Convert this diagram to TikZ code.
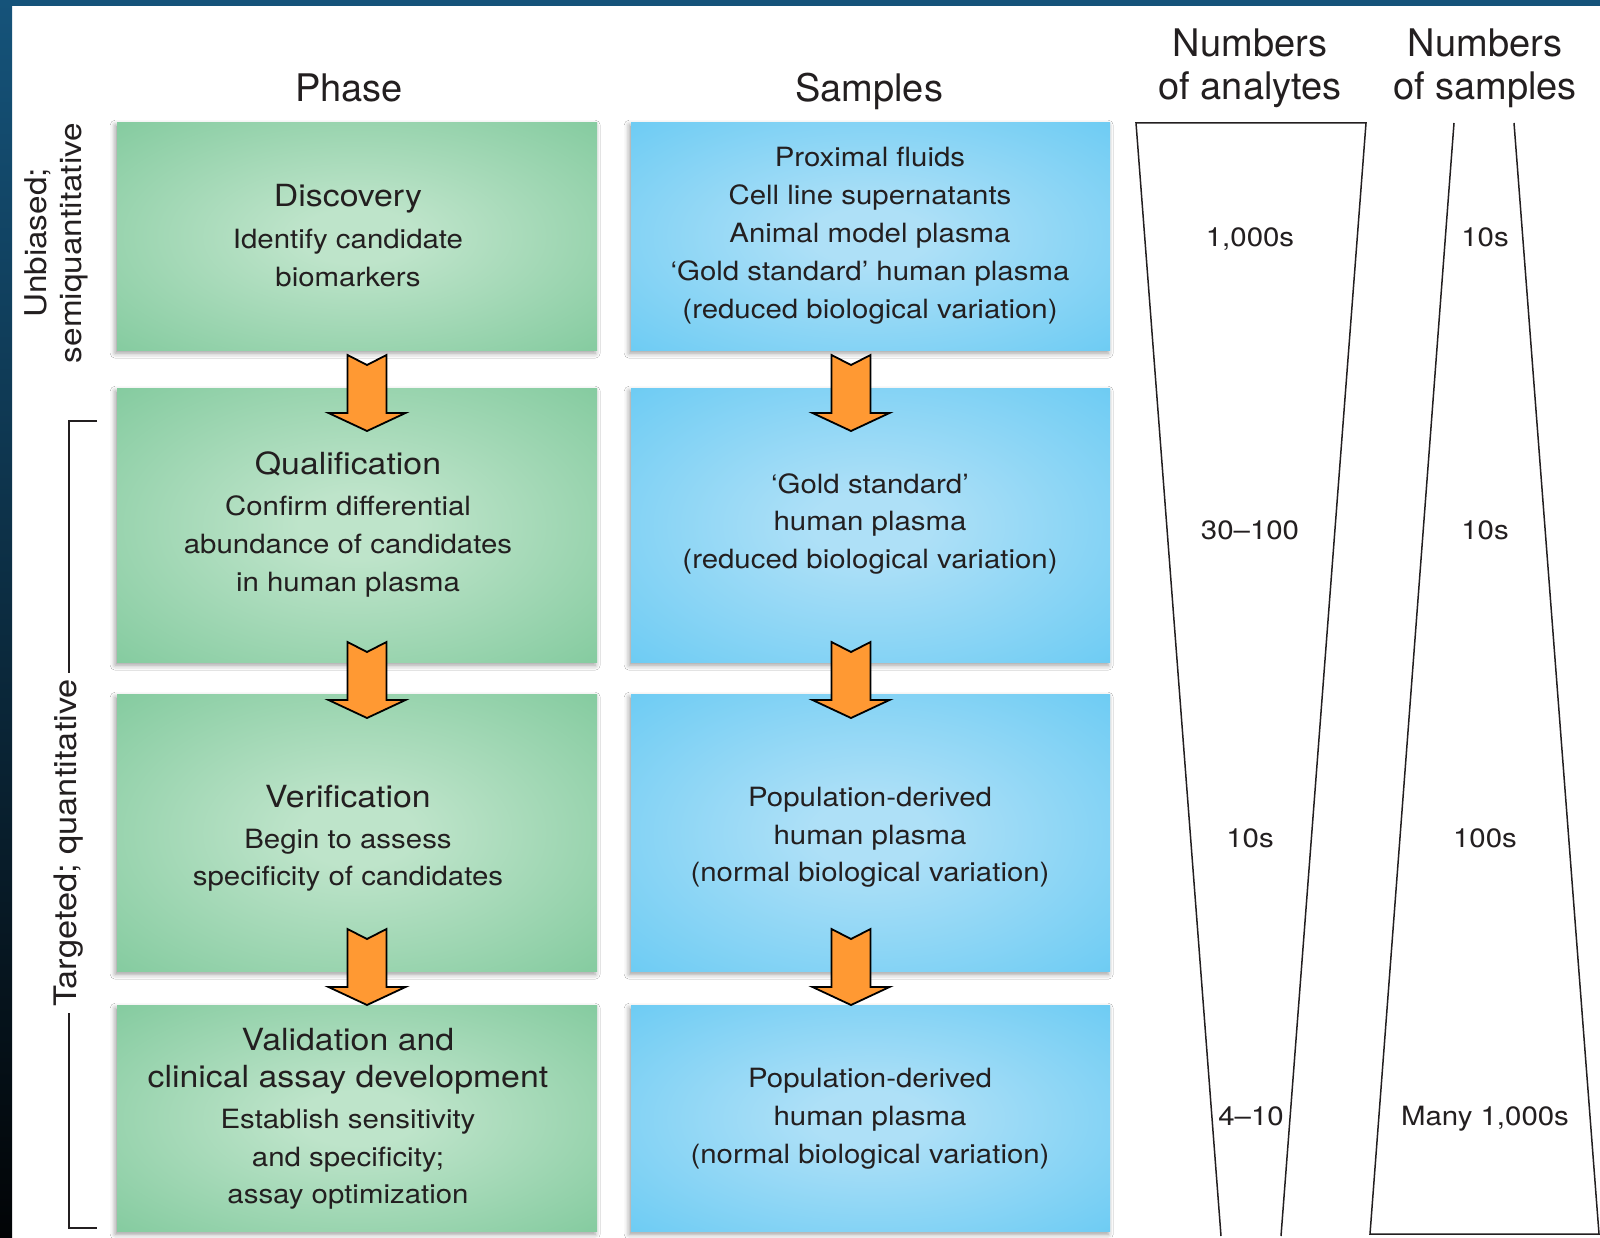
\documentclass[tikz,border=0pt]{standalone}
\usepackage{fontspec}
\setmainfont{TeX Gyre Heros}
\newfontfamily\bx{TeX Gyre Heros}[FakeStretch=1.11]
\usetikzlibrary{shadows.blur}
\definecolor{gin}{HTML}{BEE4CA}
\definecolor{gout}{HTML}{80C99C}
\definecolor{bin}{HTML}{AEE0F7}
\definecolor{bout}{HTML}{68CAF3}
\definecolor{ink}{HTML}{231F20}
\definecolor{orng}{HTML}{FF9933}
\definecolor{bandtop}{HTML}{15537A}
\definecolor{bandmid}{HTML}{0D2C43}
\definecolor{bandbot}{HTML}{020406}
\pgfdeclareradialshading{gsh}{\pgfpoint{0bp}{0bp}}{color(0bp)=(gin); color(6bp)=(gin); color(38bp)=(gout); color(50bp)=(gout)}
\pgfdeclareradialshading{bsh}{\pgfpoint{0bp}{0bp}}{color(0bp)=(bin); color(6bp)=(bin); color(38bp)=(bout); color(50bp)=(bout)}
\begin{document}
\begin{tikzpicture}[x=1pt,y=-1pt,
  txt/.style={text=ink, inner sep=0pt, anchor=base},
  hdr/.style={txt, font=\fontsize{38}{44}\selectfont},
  ttl/.style={txt, font=\bx\fontsize{30.5}{36}\selectfont},
  sub/.style={txt, font=\bx\fontsize{26.5}{38}\selectfont},
  box/.style={rectangle, anchor=north west, inner sep=0pt, shade,
    blur shadow={shadow xshift=-2pt, shadow yshift=-3pt, shadow blur radius=5pt, shadow opacity=40}},
  gbox/.style={box, shading=gsh},
  bbox/.style={box, shading=bsh},
  trap/.style={draw=ink, line width=1.5pt, line join=miter},
  brk/.style={draw=ink, line width=1.5pt},
  pics/downarrow/.style={code={
    \draw[fill=orng, draw=black, line width=1.8pt, line join=miter]
      (-19.5,0) -- (0,10) -- (19.5,0) -- (19.5,58) -- (38.5,58) -- (0,76)
      -- (-38.5,58) -- (-19.5,58) -- cycle;}}
]
\useasboundingbox (0,0) rectangle (1600,1238);
\fill[white] (0,0) rectangle (1600,1238);
% frame bands
\fill[bandtop] (0,0) rectangle (1600,6);
\shade[top color=bandtop, middle color=bandmid, bottom color=bandbot] (0,0) rectangle (12,1238);

% headers
\node[hdr] (hphase) at (349,102) {Phase};
\node[hdr] (hsamp) at (869,102) {Samples};
\node[hdr] (han1) at (1250,57) {Numbers};
\node[hdr] (han2) at (1250,100) {of analytes};
\node[hdr] (hsn1) at (1485,57) {Numbers};
\node[hdr] (hsn2) at (1485,100) {of samples};

% boxes
\node[gbox, minimum width=480pt, minimum height=228pt] (g1) at (117,122) {};
\node[gbox, minimum width=480pt, minimum height=274pt] (g2) at (117,388) {};
\node[gbox, minimum width=480pt, minimum height=277pt] (g3) at (117,694) {};
\node[gbox, minimum width=480pt, minimum height=226pt] (g4) at (117,1005) {};
\node[bbox, minimum width=479pt, minimum height=228pt] (b1) at (631,122) {};
\node[bbox, minimum width=479pt, minimum height=274pt] (b2) at (631,388) {};
\node[bbox, minimum width=479pt, minimum height=277pt] (b3) at (631,694) {};
\node[bbox, minimum width=479pt, minimum height=226pt] (b4) at (631,1005) {};

% green texts
\node[ttl] (g1a) at (348,207) {Discovery};
\node[sub] (g1b) at (348,249) {Identify candidate};
\node[sub] (g1c) at (348,287) {biomarkers};
\node[ttl] (g2a) at (348,474) {Qualification};
\node[sub] (g2b) at (348,515) {Confirm differential};
\node[sub] (g2c) at (348,553) {abundance of candidates};
\node[sub] (g2d) at (348,591) {in human plasma};
\node[ttl] (g3a) at (348,807) {Verification};
\node[sub] (g3b) at (348,848) {Begin to assess};
\node[sub] (g3c) at (348,885) {specificity of candidates};
\node[ttl] (g4a) at (348,1050) {Validation and};
\node[ttl] (g4b) at (348,1087) {clinical assay development};
\node[sub] (g4c) at (348,1128) {Establish sensitivity};
\node[sub] (g4d) at (348,1166) {and specificity;};
\node[sub] (g4e) at (348,1203) {assay optimization};

% blue texts
\node[sub] (b1a) at (870,167) {Proximal fluids};
\node[sub] (b1b) at (870,205) {Cell line supernatants};
\node[sub] (b1c) at (870,243) {Animal model plasma};
\node[sub] (b1d) at (870,281) {‘Gold standard’ human plasma};
\node[sub] (b1e) at (870,319) {(reduced biological variation)};
\node[sub] (b2a) at (870,493) {‘Gold standard’};
\node[sub] (b2b) at (870,530) {human plasma};
\node[sub] (b2c) at (870,568) {(reduced biological variation)};
\node[sub] (b3a) at (870,806) {Population-derived};
\node[sub] (b3b) at (870,844) {human plasma};
\node[sub] (b3c) at (870,881) {(normal biological variation)};
\node[sub] (b4a) at (870,1087) {Population-derived};
\node[sub] (b4b) at (870,1125) {human plasma};
\node[sub] (b4c) at (870,1163) {(normal biological variation)};

% arrows
\pic (ga1) at (367,355) {downarrow};
\pic (ga2) at (367,642) {downarrow};
\pic (ga3) at (367,929) {downarrow};
\pic (ba1) at (851,355) {downarrow};
\pic (ba2) at (851,642) {downarrow};
\pic (ba3) at (851,929) {downarrow};

% trapezoids
\draw[trap] (1221,1236) -- (1136,123) -- (1366,123) -- (1281,1236);
\draw[trap] (1454,123) -- (1370,1234) -- (1599,1234) -- (1514,123);

% numbers
\node[sub] (na1) at (1250,247) {1,000s};
\node[sub] (na2) at (1250,539) {30–100};
\node[sub] (na3) at (1250,847) {10s};
\node[sub] (na4) at (1251,1125) {4–10};
\node[sub] (ns1) at (1485,247) {10s};
\node[sub] (ns2) at (1485,539) {10s};
\node[sub] (ns3) at (1485,847) {100s};
\node[sub] (ns4) at (1485,1125) {Many 1,000s};

% side labels
\node[text=ink, rotate=90, align=center, inner sep=0pt, font=\bx\fontsize{30}{35}\selectfont] (unb) at (56,243) {Unbiased;\\semiquantitative};
\node[text=ink, rotate=90, inner sep=6pt, font=\bx\fontsize{31}{36}\selectfont] (tgt) at (69,843) {Targeted; quantitative};
\coordinate (brt) at (97,421);
\coordinate (brb) at (97,1228);
\draw[brk] (brt) -- (brt -| tgt.center) -- (tgt.east);
\draw[brk] (tgt.west) -- (brb -| tgt.center) -- (brb);
\end{tikzpicture}
\end{document}
